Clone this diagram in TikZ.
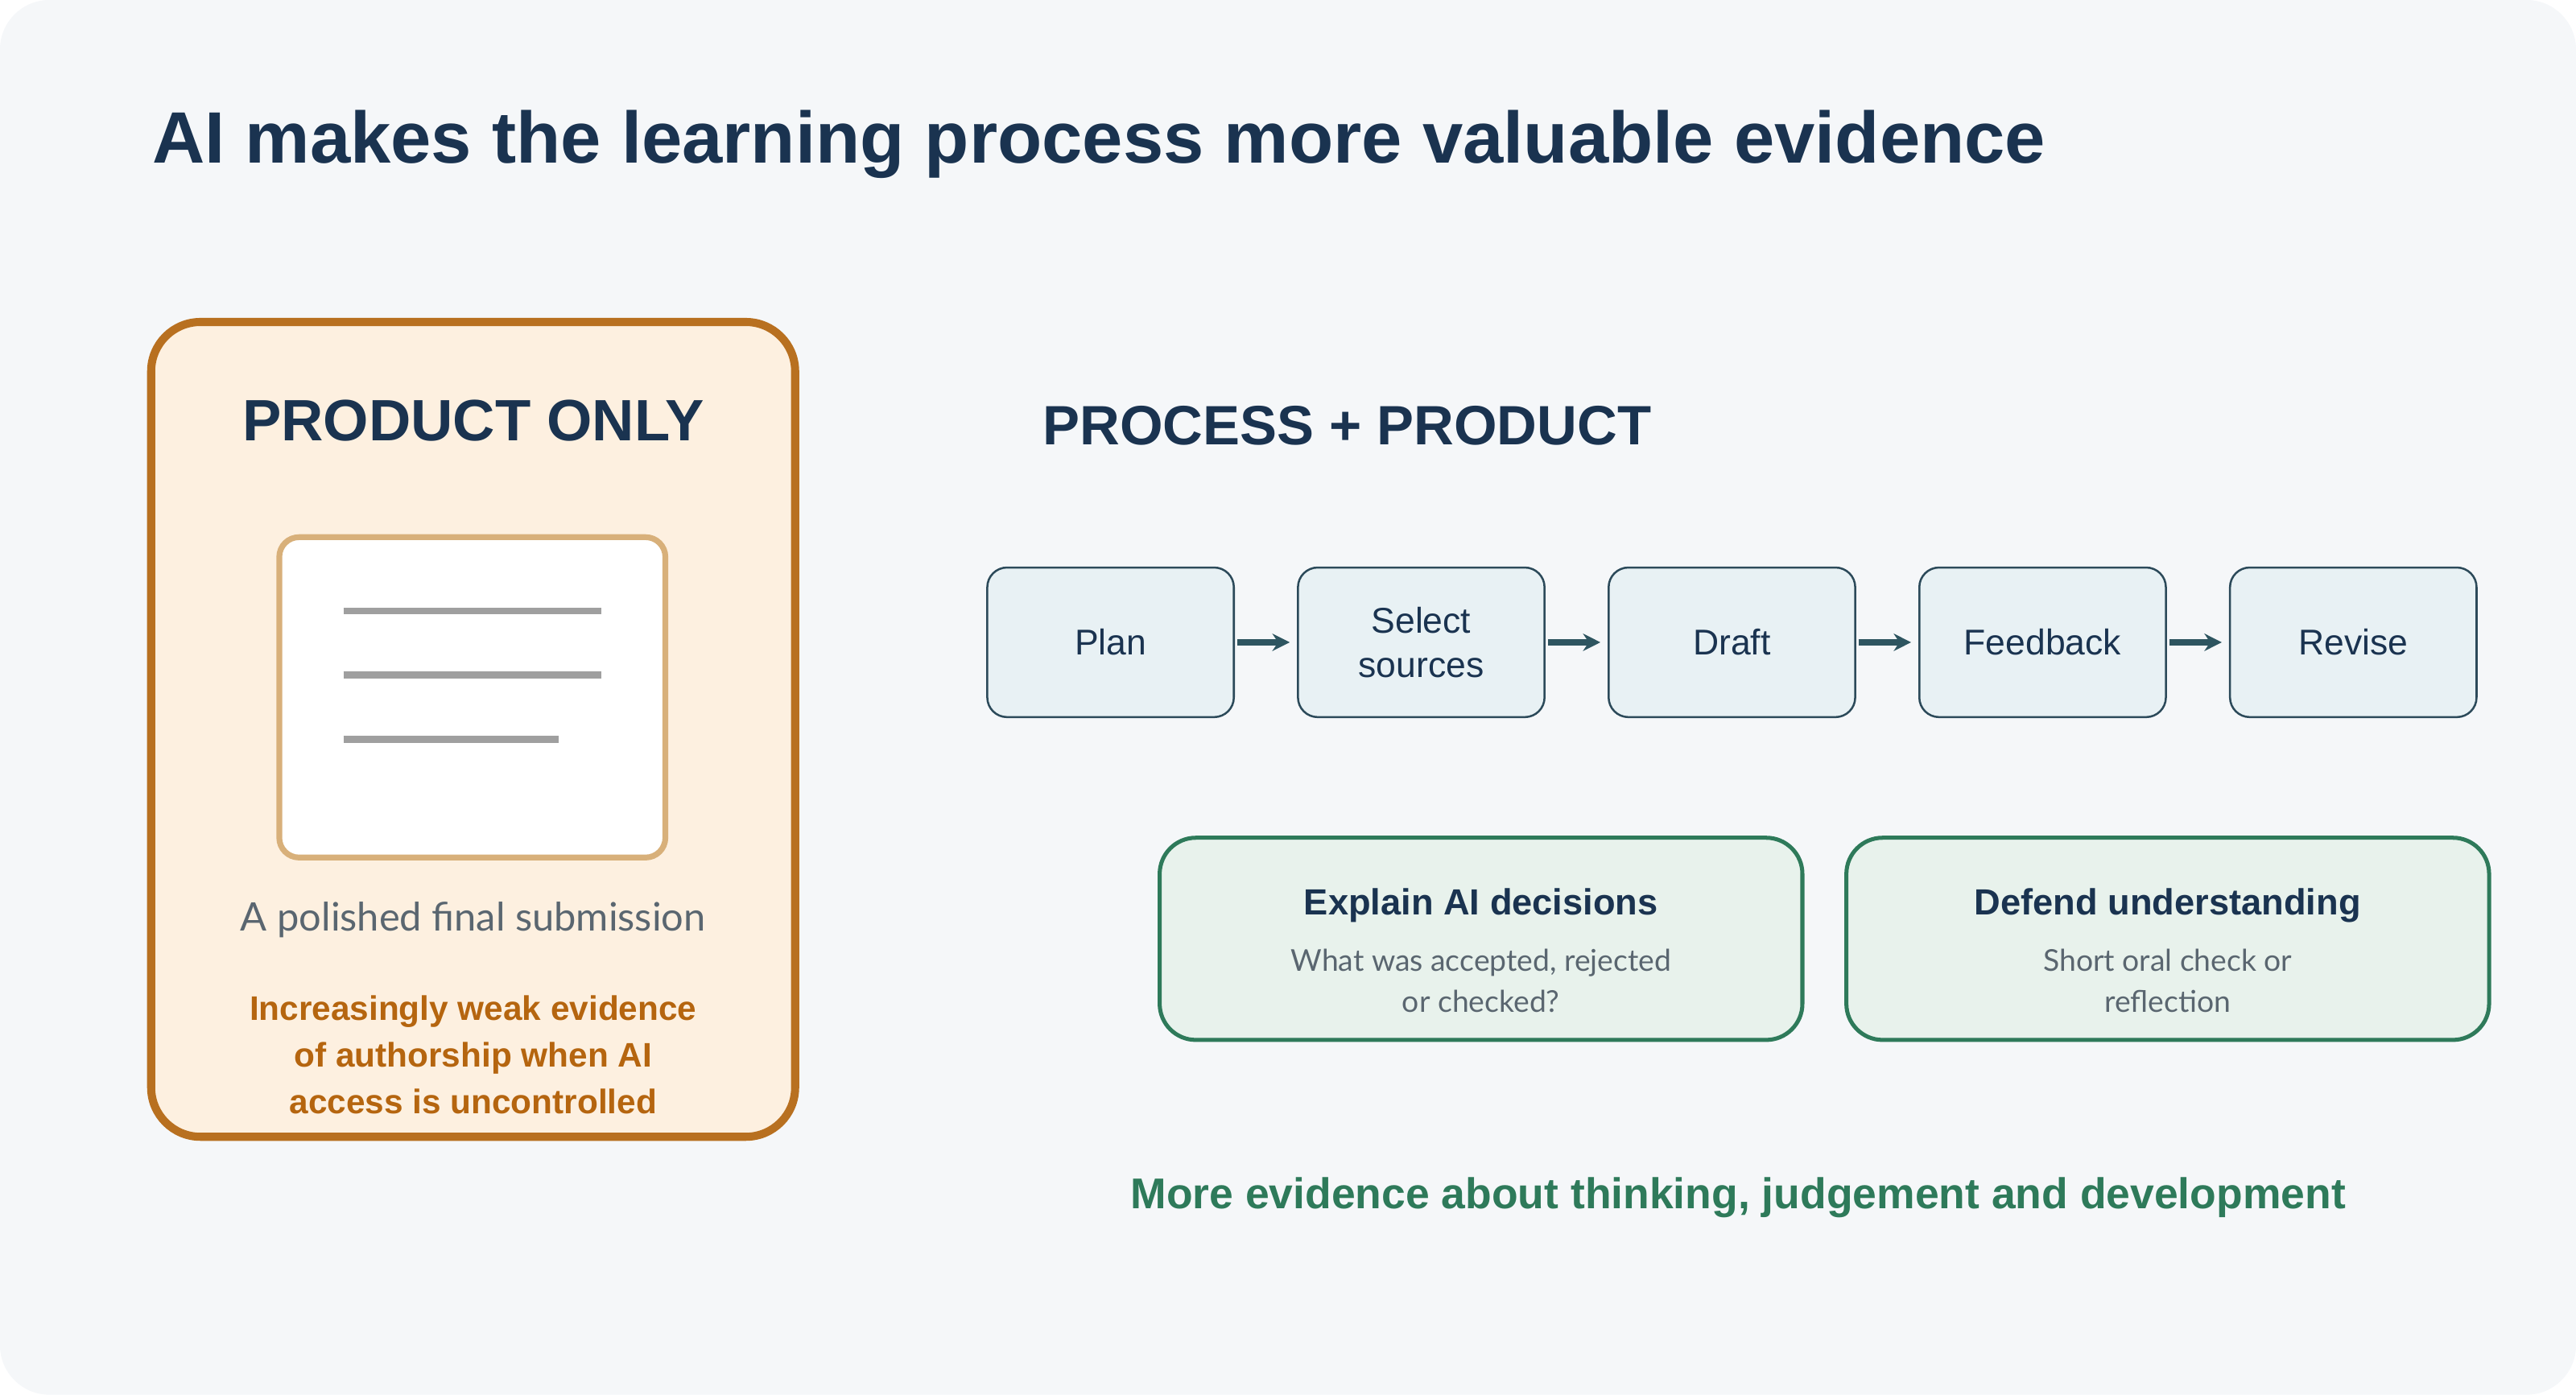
\documentclass[tikz,border=0pt]{standalone}
\usepackage{fontspec}
\setmainfont{Liberation Sans}
\newfontfamily\lato{Lato}
\usetikzlibrary{positioning,arrows.meta}
\definecolor{bgcol}{HTML}{F5F7F9}
\definecolor{navy}{HTML}{1A3350}
\definecolor{orfill}{HTML}{FDF0E0}
\definecolor{ordraw}{HTML}{B87020}
\definecolor{ortext}{HTML}{B5650F}
\definecolor{docdraw}{HTML}{D8B07A}
\definecolor{stepfill}{HTML}{E8F1F4}
\definecolor{stepdraw}{HTML}{2C4A5A}
\definecolor{arrcol}{HTML}{2E5560}
\definecolor{grfill}{HTML}{E8F2EC}
\definecolor{grdraw}{HTML}{2E7A5A}
\definecolor{graytext}{HTML}{5A6670}
\tikzset{
  procstep/.style={draw=stepdraw, fill=stepfill, rounded corners=0.12cm, line width=0.35pt,
    minimum width=1.5cm, minimum height=0.91cm, align=center, text=navy,
    font=\fontsize{6.2}{7.6}\selectfont, inner sep=0pt, outer sep=0pt},
  check/.style={draw=grdraw, fill=grfill, rounded corners=0.22cm, line width=0.7pt,
    minimum width=3.91cm, minimum height=1.23cm, inner sep=0pt},
  flow/.style={-{Stealth[length=3pt,width=3pt]}, arrcol, line width=1.1pt},
}
\begin{document}
\begin{tikzpicture}[x=0.01cm,y=-0.01cm]
    \useasboundingbox (0,0) rectangle (1568,849);
    \fill[bgcol, rounded corners=0.3cm] (0,0) rectangle (1568,849);
    \node[anchor=base west, inner sep=0pt, text=navy, font=\fontsize{12.6}{14}\selectfont\bfseries] (title) at (92,99) {AI makes the learning process more valuable evidence};
    % product only
    \draw[ordraw, fill=orfill, line width=1.4pt, rounded corners=0.3cm] (92,196) rectangle (484,692);
    \node[text=navy, font=\fontsize{10.1}{12}\selectfont\bfseries] (prodtitle) at (288,256) {PRODUCT ONLY};
    \draw[docdraw, fill=white, line width=1pt, rounded corners=0.12cm] (170,327) rectangle (405,522);
    \draw[gray!75, line width=1.2pt] (209,372) -- (366,372) (209,411) -- (366,411) (209,450) -- (340,450);
    \node[text=graytext, font=\lato\fontsize{6.8}{8}\selectfont] (polished) at (288,560) {A polished final submission};
    \node[text=ortext, align=center, font=\fontsize{5.9}{8.1}\selectfont\bfseries] (weak) at (288,642)
        {Increasingly weak evidence\\of authorship when AI\\access is uncontrolled};
    % process + product
    \node[anchor=west, inner sep=0pt, text=navy, font=\fontsize{9.6}{12}\selectfont\bfseries] (proctitle) at (634,259) {PROCESS + PRODUCT};
    \node[procstep] (plan) at (676,391) {Plan};
    \node[procstep, right=0.39cm of plan] (select) {Select\\sources};
    \node[procstep, right=0.39cm of select] (draft) {Draft};
    \node[procstep, right=0.39cm of draft] (feedback) {Feedback};
    \node[procstep, right=0.39cm of feedback] (revise) {Revise};
    \foreach \a/\b in {plan/select, select/draft, draft/feedback, feedback/revise}
        \draw[flow] ([xshift=0.02cm]\a.east) -- ([xshift=-0.05cm]\b.west);
    \node[check] (explain) at (901.5,571.5) {};
    \node[text=navy, font=\fontsize{6.3}{8}\selectfont\bfseries] at (901.5,551) {Explain AI decisions};
    \node[text=graytext, align=center, font=\lato\fontsize{5.2}{7.2}\selectfont] at (901.5,597) {What was accepted, rejected\\or checked?};
    \node[check] (defend) at (1319.5,571.5) {};
    \node[text=navy, font=\fontsize{6.3}{8}\selectfont\bfseries] at (1319.5,551) {Defend understanding};
    \node[text=graytext, align=center, font=\lato\fontsize{5.2}{7.2}\selectfont] at (1319.5,597) {Short oral check or\\reflection};
    \node[text=grdraw, font=\fontsize{7.45}{9}\selectfont\bfseries] (more) at (1058,729) {More evidence about thinking, judgement and development};
\end{tikzpicture}
\end{document}
